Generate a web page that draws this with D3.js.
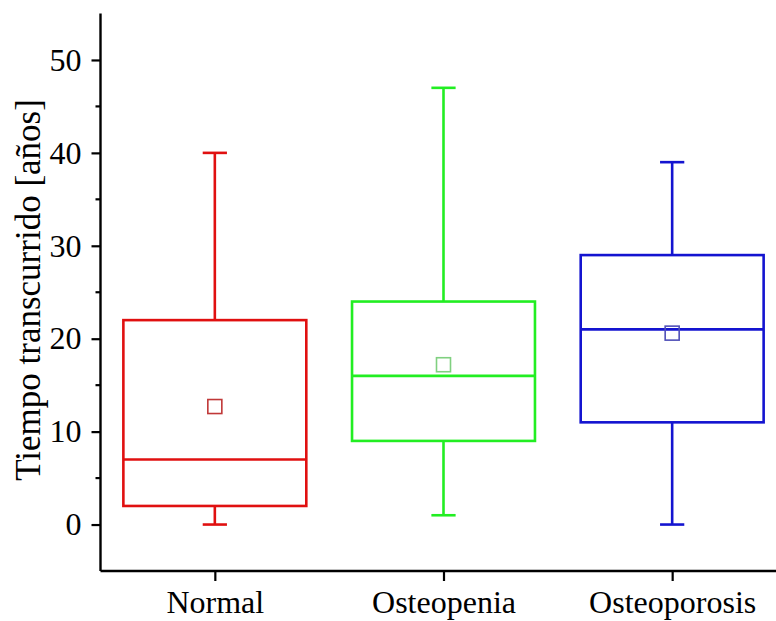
<!DOCTYPE html>
<html>
<head>
<meta charset="utf-8">
<script src="https://cdn.jsdelivr.net/npm/d3@7"></script>
<style>
  html, body { margin: 0; padding: 0; background: #fff; }
</style>
</head>
<body>
<svg id="chart" width="776" height="621"></svg>
<script>
// Box plot summary per group (years elapsed)
const categories = ["Normal", "Osteopenia", "Osteoporosis"];
const whiskerLow  = [0, 1, 0];
const q1          = [2, 9, 11];
const median      = [7, 16, 21];
const q3          = [22, 24, 29];
const whiskerHigh = [40, 47, 39];
const mean        = [12.7, 17.2, 20.6];
const boxColors   = ["#e01010", "#22ee22", "#1414d0"];
const meanColors  = ["#c03838", "#80d080", "#5050b8"];
const yTicks      = [0, 10, 20, 30, 40, 50];
const yMinorTicks = [5, 15, 25, 35, 45];
const yTitle      = "Tiempo transcurrido [años]";

const FONT = "'Liberation Serif', 'Times New Roman', 'DejaVu Serif', serif";
const FS = 32;       // tick and category labels
const FS_TITLE = 35; // axis title

const svg = d3.select("#chart");

const y = d3.scaleLinear().domain([-5, 55]).range([571, 13.5]);
const x = d3.scaleLinear().domain([0.5, 3.5]).range([100.5, 786.5]);

const boxHalf = 0.4;   // half box width, in category units
const capHalf = 0.053; // half whisker-cap width

const groups = svg.append("g")
  .selectAll("g")
  .data(categories)
  .join("g");

groups.each(function(c, i) {
  const g = d3.select(this);
  const cx = i + 1;
  const col = boxColors[i];
  const sw = 2.6;
  // whiskers
  g.append("line").attr("x1", x(cx)).attr("x2", x(cx))
    .attr("y1", y(q3[i])).attr("y2", y(whiskerHigh[i]))
    .attr("stroke", col).attr("stroke-width", sw);
  g.append("line").attr("x1", x(cx)).attr("x2", x(cx))
    .attr("y1", y(q1[i])).attr("y2", y(whiskerLow[i]))
    .attr("stroke", col).attr("stroke-width", sw);
  // caps
  [whiskerHigh[i], whiskerLow[i]].forEach(v => {
    g.append("line").attr("x1", x(cx - capHalf)).attr("x2", x(cx + capHalf))
      .attr("y1", y(v)).attr("y2", y(v))
      .attr("stroke", col).attr("stroke-width", sw);
  });
  // box
  g.append("rect")
    .attr("x", x(cx - boxHalf)).attr("width", x(cx + boxHalf) - x(cx - boxHalf))
    .attr("y", y(q3[i])).attr("height", y(q1[i]) - y(q3[i]))
    .attr("fill", "none").attr("stroke", col).attr("stroke-width", sw);
  // median
  g.append("line").attr("x1", x(cx - boxHalf)).attr("x2", x(cx + boxHalf))
    .attr("y1", y(median[i])).attr("y2", y(median[i]))
    .attr("stroke", col).attr("stroke-width", sw);
  // mean marker
  const s = 14;
  g.append("rect")
    .attr("x", x(cx) - s / 2).attr("y", y(mean[i]) - s / 2)
    .attr("width", s).attr("height", s)
    .attr("fill", "none").attr("stroke", meanColors[i]).attr("stroke-width", 1.6);
});

// Y axis: major ticks with labels, minor ticks between
const yAxisG = svg.append("g").attr("transform", `translate(${x(0.5)},0)`);
yAxisG.call(d3.axisLeft(y).tickValues(yTicks).tickSize(9).tickPadding(10).tickFormat(d3.format("d")));
yAxisG.attr("font-family", FONT).attr("font-size", FS);
yAxisG.selectAll(".tick line").attr("stroke", "#000").attr("stroke-width", 2.2);
yAxisG.selectAll("text").attr("fill", "#000")
  .style("font-family", FONT).style("font-size", FS + "px");
yAxisG.select(".domain").attr("stroke", "#000").attr("stroke-width", 2.4)
  .attr("d", `M0,${y(55)}V${y(-5)}`);
yAxisG.append("g").selectAll("line").data(yMinorTicks).join("line")
  .attr("x1", -5).attr("x2", 0).attr("y1", d => y(d)).attr("y2", d => y(d))
  .attr("stroke", "#000").attr("stroke-width", 2.2);

// X axis along the bottom
const xAxisG = svg.append("g").attr("transform", `translate(0,${y(-5)})`);
xAxisG.call(d3.axisBottom(x).tickValues([1, 2, 3]).tickSize(10).tickPadding(9)
  .tickFormat((d, i) => categories[i]));
xAxisG.attr("font-family", FONT).attr("font-size", FS);
xAxisG.selectAll(".tick line").attr("stroke", "#000").attr("stroke-width", 2.2);
xAxisG.selectAll("text").attr("fill", "#000")
  .style("font-family", FONT).style("font-size", FS + "px");
xAxisG.select(".domain").attr("stroke", "#000").attr("stroke-width", 2.4)
  .attr("d", `M${x(0.5)},0H${x(3.5)}`);

// Y axis title
svg.append("text")
  .attr("transform", `translate(40,290) rotate(-90)`)
  .attr("text-anchor", "middle")
  .attr("fill", "#000")
  .style("font-family", FONT)
  .style("font-size", FS_TITLE + "px")
  .text(yTitle);
</script>
</body>
</html>
